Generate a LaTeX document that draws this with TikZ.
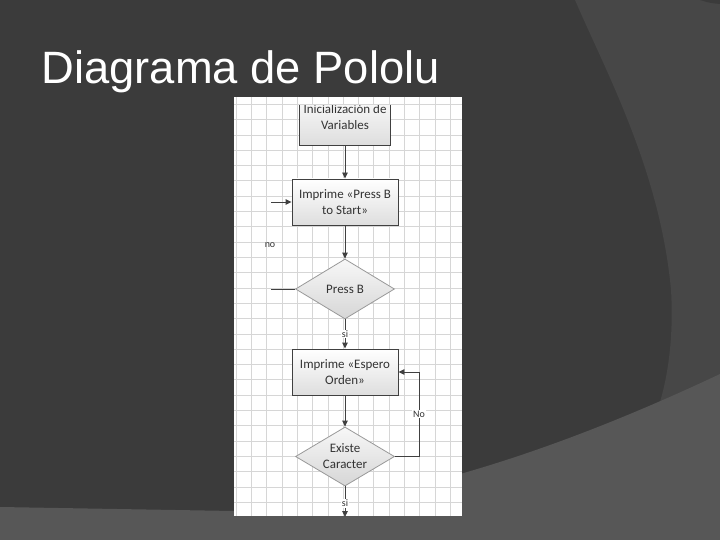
\documentclass[tikz,border=0pt]{standalone}
\usepackage{fontspec}
\newfontfamily\titlefont{Liberation Sans}
\newfontfamily\flowfont{Carlito}
\usepackage{xcolor}
\usetikzlibrary{arrows.meta,shapes.geometric}
\definecolor{slidebg}{HTML}{3B3B3B}
\definecolor{slidearc}{HTML}{474747}
\definecolor{slideband}{HTML}{575757}
\definecolor{gridln}{HTML}{D6D6D6}
\definecolor{ink}{HTML}{404040}
\tikzset{
  proc/.style={draw=ink,line width=0.9bp,top color=white,bottom color=black!13,minimum width=106bp,minimum height=46bp,inner sep=0pt,align=center,font=\flowfont\fontsize{13}{16}\selectfont,text=black!80},
  dec/.style={diamond,draw=black!40,line width=0.8bp,top color=black!3,bottom color=black!16,aspect=1.65,minimum width=99bp,minimum height=60bp,inner sep=0pt,align=center,font=\flowfont\fontsize{13}{16}\selectfont,text=black!80},
  fl/.style={ink,line width=0.9bp,-{Triangle[length=6bp,width=5.5bp]}},
  ln/.style={ink,line width=0.9bp},
  tag/.style={fill=white,inner sep=1bp,font=\flowfont\fontsize{10}{12}\selectfont,text=black!80},
  gl/.style={gridln,line width=0.6bp}
}

\begin{document}
\begin{tikzpicture}[x=1bp,y=-1bp]
\fill[slidebg] (0,0) rectangle (720,540);
\fill[slidearc] (575,0) .. controls (605,70) and (660,170) .. (671,290) .. controls (674,340) and (667,380) .. (659,405) -- (652,440) -- (720,440) -- (720,0) -- cycle;
\fill[slidebg] (700,0) .. controls (710,3) .. (720,4) -- (720,0) -- cycle;
\fill[slideband] (0,507) -- (234,511) .. controls (400,508) and (580,440) .. (720,374) -- (720,540) -- (0,540) -- cycle;
\useasboundingbox (0,0) rectangle (720,540);
\node[anchor=base west,text=white,font=\titlefont\fontsize{45.5}{48}\selectfont,inner sep=0pt] (title) at (41.5,83.3) {Diagrama de Pololu};

\fill[white] (234,97) rectangle (462,516);
\foreach \k in {0,...,14} \draw[gl] (236+15.3*\k,97) -- (236+15.3*\k,516);
\foreach \k in {0,...,26} \draw[gl] (234,104.3+15.3*\k) -- (462,104.3+15.3*\k);

\begin{scope}
\clip (234,105.5) rectangle (462,516);
\node[proc,minimum width=91bp,minimum height=56bp] (init) at (345,117) {Inicialización de\\Variables};
\end{scope}
\node[proc] (press) at (345,202) {Imprime «Press B\\to Start»};
\node[dec] (btn) at (345,289) {Press B};
\node[proc] (espero) at (345,372) {Imprime «Espero\\Orden»};
\node[dec,minimum height=59bp] (car) at (345,456.5) {Existe\\Caracter};

\coordinate (nofin) at (271,289);
\coordinate (nostart) at (271,202);
\coordinate (loopx) at (419,456.5);
\coordinate (outp) at (345,517);

\draw[fl] (init) -- (press);
\draw[fl] (press) -- (btn);
\draw[fl] (btn) -- node[tag] {si} (espero);
\draw[fl] (espero) -- (car);
\draw[ln] (car.east) -- (loopx);
\draw[fl] (loopx) |- node[tag,pos=0.25] {No} (espero.east);
\draw[fl] (car.south) -- node[tag,pos=0.55] {si} (outp);
\draw[ln] (btn.west) -- (nofin);
\draw[fl] (nostart) -- (press.west);
\node[font=\flowfont\fontsize{10}{12}\selectfont,text=black!80,inner sep=0pt] (nolbl) at (270,245) {no};
\end{tikzpicture}
\end{document}
